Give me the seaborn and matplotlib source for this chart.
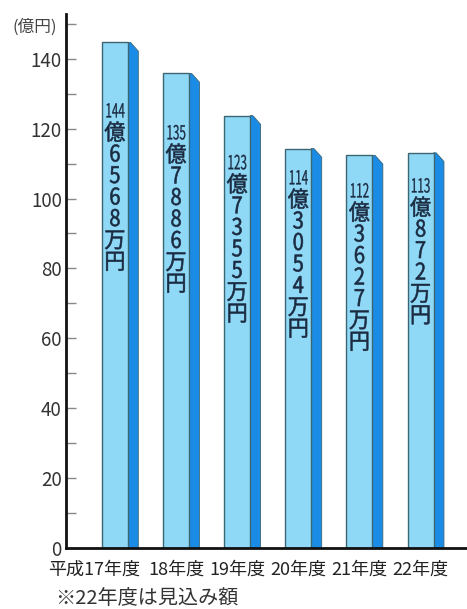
import matplotlib
matplotlib.use("Agg")
import matplotlib.pyplot as plt
import seaborn as sns
import pandas as pd
import numpy as np
from matplotlib.patches import Polygon
from matplotlib.ticker import MultipleLocator
import matplotlib.transforms as mtransforms
from matplotlib import patheffects

# ---- data ----
years = ["平成17年度", "18年度", "19年度", "20年度", "21年度", "22年度"]
oku = [144, 135, 123, 114, 112, 113]          # 億
man = ["6568", "7886", "7355", "3054", "3627", "872"]  # 万
values = [144.6568, 135.7886, 123.7355, 114.3054, 112.3627, 113.0872]  # 億円
unit_label = "(億円)"
footnote = "※22年度は見込み額"

df = pd.DataFrame({"year": years, "value": values})

sns.set_theme(style="white")
plt.rcParams['font.family'] = ['Noto Sans CJK JP', 'DejaVu Sans']


class Squeeze(patheffects.AbstractPathEffect):
    """Horizontally condense glyphs around their own centre, with a thin outline."""
    def __init__(self, sx, lw=0.0):
        super().__init__()
        self.sx = sx
        self.lw = lw

    def draw_path(self, renderer, gc, tpath, affine, rgbFace=None):
        ext = tpath.get_extents()
        c = (ext.x0 + ext.x1) / 2
        t = mtransforms.Affine2D().translate(-c, 0).scale(self.sx, 1).translate(c, 0) + affine
        gc0 = renderer.new_gc()
        gc0.copy_properties(gc)
        if self.lw > 0 and rgbFace is not None:
            gc0.set_linewidth(self.lw)
            gc0.set_foreground(rgbFace)
        renderer.draw_path(gc0, tpath, t, rgbFace)
        gc0.restore()


W, H = 467, 609
fig = plt.figure(figsize=(W / 100, H / 100), dpi=100)
ax = fig.add_axes([66 / W, 1 - 548 / H, 1 - 66 / W, (548 - 14) / H])

face = "#8fd8f6"
side = "#1a8ce6"
edge = "#3d6673"
txt = "#1a2a40"
bw = 0.426
sns.barplot(data=df, x="year", y="value", ax=ax, color=face, width=bw,
            saturation=1, edgecolor=edge, linewidth=1.0)

ax.set_xlim(-0.80, 5.76)
ax.set_ylim(0, 152.8)
px = 534 / 152.8  # pixels per data unit

side_w = 0.17
drop = 2.5
# offsets (data units) from bar top to centre of the number label
label_gap = [19.9, 17.3, 13.8, 8.7, 10.5, 9.8]
step = 21.5 / px
for i, p in enumerate(ax.patches):
    x0 = p.get_x()
    r = x0 + p.get_width()
    top = p.get_height()
    poly = Polygon([(r, top), (r + side_w * 0.25, top), (r + side_w, top - drop),
                    (r + side_w, 0), (r, 0)], closed=True,
                   facecolor=side, edgecolor=edge, linewidth=0.6,
                   zorder=p.get_zorder() - 0.1)
    ax.add_patch(poly)
    cx = x0 + p.get_width() / 2
    y0 = top - label_gap[i]
    ax.text(cx, y0, str(oku[i]), ha="center", va="center", fontsize=14,
            color=txt, path_effects=[Squeeze(0.6, 0.2)])
    chars = ["億"] + list(man[i]) + ["万", "円"]
    for k, ch in enumerate(chars):
        is_digit = ch.isdigit()
        ax.text(cx, y0 - (k + 1) * step, ch, ha="center", va="center",
                fontsize=16.5 if is_digit else 16, color=txt,
                path_effects=[Squeeze(0.88 if is_digit else 0.95, 0.4)])

sns.despine(ax=ax, top=True, right=True)
ax.spines["left"].set_color("#111111")
ax.spines["left"].set_linewidth(2)
ax.spines["bottom"].set_color("#111111")
ax.spines["bottom"].set_linewidth(2)

ax.yaxis.set_major_locator(MultipleLocator(20))
ax.yaxis.set_minor_locator(MultipleLocator(10))
ax.set_yticks(np.arange(0, 141, 20))
ax.tick_params(axis="y", which="both", direction="in", length=7, width=1,
               color="#888888", left=True, labelsize=13.5, labelcolor="#333333", pad=3)
ax.tick_params(axis="x", which="both", bottom=False, labelsize=13,
               labelcolor="#222222", pad=3)
ax.set_xlabel("")
ax.set_ylabel("")

lbls = ax.get_xticklabels()
lbls[0].set_transform(lbls[0].get_transform() +
                      mtransforms.ScaledTranslation(-21 / 100, 0, fig.dpi_scale_trans))
for lb in lbls:
    lb.set_x(lb.get_position()[0] + side_w / 2)

fig.text(12 / W, 1 - 27 / H, unit_label, ha="left", va="center", fontsize=12,
         color="#444444")
fig.text(55 / W, 1 - 598 / H, footnote, ha="left", va="center", fontsize=14.5,
         color="#333333")

fig.savefig("out.png", dpi=100)
